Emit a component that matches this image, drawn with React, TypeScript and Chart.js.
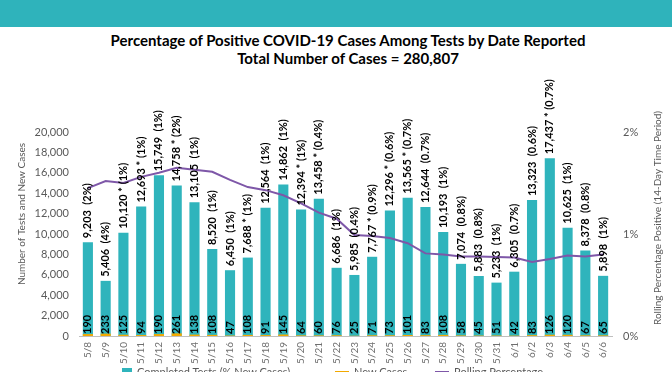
import React, { useEffect, useRef } from 'react';
import { Chart, registerables } from 'chart.js';
Chart.register(...registerables);

const dates = ['5/8','5/9','5/10','5/11','5/12','5/13','5/14','5/15','5/16','5/17','5/18','5/19','5/20','5/21','5/22','5/23','5/24','5/25','5/26','5/27','5/28','5/29','5/30','5/31','6/1','6/2','6/3','6/4','6/5','6/6'];
const tests = [9203,5406,10120,12693,15749,14758,13105,8520,6450,7688,12564,14862,12394,13458,6686,5985,7767,12296,13565,12644,10193,7074,5883,5233,6305,13323,17437,10625,8378,5898];
const newCases = [190,233,125,94,190,261,138,108,47,108,91,145,64,60,76,25,71,73,101,83,108,58,45,51,42,83,126,120,67,65];
const positiveShare = ['2%','4%','1%','1%','1%','2%','1%','1%','1%','1%','1%','1%','1%','0.4%','1%','0.4%','0.9%','0.6%','0.7%','0.7%','1%','0.8%','0.8%','1%','0.7%','0.6%','0.7%','1%','0.8%','1%'];
const starred = [false,false,true,true,false,true,false,false,false,true,false,false,true,true,false,false,true,true,true,false,false,false,false,false,false,false,true,false,false,false];
const rollingPct = [1.45,1.52,1.50,1.56,1.60,1.65,1.63,1.61,1.53,1.46,1.43,1.38,1.30,1.21,1.15,0.99,0.98,0.96,0.91,0.81,0.80,0.78,0.78,0.775,0.77,0.725,0.755,0.79,0.78,0.80];

const FONT = 'Lato, "Noto Sans", sans-serif';
const TEAL = '#2fb4bc';
const PURPLE = '#7e57a8';
const ORANGE = '#f2a900';
const GRAY = '#595959';

export default function App() {
  const ref = useRef<HTMLCanvasElement>(null);
  useEffect(() => {
    document.body.style.margin = '0';
    const labelPlugin = {
      id: 'barLabels',
      afterDatasetsDraw(chart: any) {
        const ctx = chart.ctx;
        const meta = chart.getDatasetMeta(0);
        const area = chart.chartArea;
        ctx.save();
        ctx.fillStyle = '#000';
        ctx.textAlign = 'left';
        ctx.textBaseline = 'middle';
        meta.data.forEach((bar: any, i: number) => {
          const txt = tests[i].toLocaleString('en-US') + (starred[i] ? ' * ' : '  ') + '(' + positiveShare[i] + ')';
          ctx.font = `bold 11px ${FONT}`;
          ctx.save();
          ctx.translate(bar.x, bar.y - 4);
          ctx.rotate(-Math.PI / 2);
          ctx.fillText(txt, 0, 0);
          ctx.restore();
          ctx.save();
          ctx.translate(bar.x, area.bottom - 2);
          ctx.rotate(-Math.PI / 2);
          ctx.fillText(String(newCases[i]), 0, 0);
          ctx.restore();
        });
        ctx.fillStyle = GRAY;
        ctx.font = `10px ${FONT}`;
        ctx.textAlign = 'center';
        ctx.save();
        ctx.translate(22, 214);
        ctx.rotate(-Math.PI / 2);
        ctx.fillText('Number of Tests and New Cases', 0, 0);
        ctx.restore();
        ctx.save();
        ctx.translate(658, 218);
        ctx.rotate(-Math.PI / 2);
        ctx.fillText('Rolling Percentage Positive (14-Day Time Period)', 0, 0);
        ctx.restore();
        ctx.restore();
      },
    };
    const chart = new Chart(ref.current!, {
      type: 'bar',
      data: {
        labels: dates,
        datasets: [
          { type: 'bar', label: 'Completed Tests (% New Cases)', data: tests, backgroundColor: TEAL, grouped: false, barPercentage: 0.57, categoryPercentage: 1, order: 3, yAxisID: 'y' } as any,
          { type: 'bar', label: 'New Cases', data: newCases, backgroundColor: ORANGE, grouped: false, barPercentage: 0.57, categoryPercentage: 1, order: 2, yAxisID: 'y' } as any,
          { type: 'line', label: 'Rolling Percentage', data: rollingPct, borderColor: PURPLE, borderWidth: 2, pointRadius: 0, tension: 0, order: 1, yAxisID: 'y1' } as any,
        ],
      },
      options: {
        animation: false,
        responsive: false,
        layout: { padding: { top: 132, left: 0, right: 0, bottom: 0 } },
        plugins: { legend: { display: false }, title: { display: false }, tooltip: { enabled: false } },
        scales: {
          x: {
            grid: { display: false, drawTicks: false },
            border: { display: true, color: '#bfbfbf', width: 1 },
            ticks: { color: '#6f6f6f', font: { family: FONT, size: 10 }, minRotation: 90, maxRotation: 90, padding: 6, autoSkip: false },
            afterFit: (s: any) => { s.height = 36; },
          },
          y: {
            position: 'left',
            min: 0, max: 20000,
            grid: { display: false, drawTicks: false },
            border: { display: false },
            ticks: { stepSize: 2000, color: GRAY, font: { family: FONT, size: 11 }, padding: 10, callback: (v: any) => Number(v).toLocaleString('en-US') },
            afterFit: (s: any) => { s.width = 79; },
          },
          y1: {
            position: 'right',
            min: 0, max: 2,
            grid: { display: false, drawTicks: false },
            border: { display: false },
            ticks: { stepSize: 1, color: GRAY, font: { family: FONT, size: 11 }, padding: 11, callback: (v: any) => v + '%' },
            afterFit: (s: any) => { s.width = 60; },
          },
        },
      },
      plugins: [labelPlugin],
    });
    return () => chart.destroy();
  }, []);

  const legendItem = (left: number, swatch: React.ReactNode, text: string) => (
    <div style={{ position: 'absolute', left, top: 0, display: 'flex', alignItems: 'center', whiteSpace: 'nowrap' }}>
      {swatch}
      <span style={{ marginLeft: 5 }}>{text}</span>
    </div>
  );

  return (
    <div style={{ position: 'relative', width: 672, height: 372, overflow: 'hidden', background: '#fff' }}>
      <div style={{ position: 'absolute', left: 0, top: 0, width: 672, height: 27, background: '#2fb3bb' }} />
      <div style={{ position: 'absolute', left: 24, top: 31, width: 648, textAlign: 'center', fontFamily: FONT, fontWeight: 700, fontSize: 15, lineHeight: '18px', color: '#000' }}>
        <div>Percentage of Positive COVID-19 Cases Among Tests by Date Reported</div>
        <div>Total Number of Cases = 280,807</div>
      </div>
      <canvas ref={ref} width={672} height={372} style={{ position: 'absolute', left: 0, top: 0 }} />
      <div style={{ position: 'absolute', left: 0, top: 365, width: 672, height: 14, fontFamily: FONT, fontSize: 11, color: GRAY }}>
        {legendItem(122, <span style={{ display: 'inline-block', width: 10, height: 8, background: TEAL }} />, 'Completed Tests (% New Cases)')}
        {legendItem(335, <span style={{ display: 'inline-block', width: 14, height: 2, background: ORANGE }} />, 'New Cases')}
        {legendItem(435, <span style={{ display: 'inline-block', width: 14, height: 2, background: PURPLE }} />, 'Rolling Percentage')}
      </div>
    </div>
  );
}
